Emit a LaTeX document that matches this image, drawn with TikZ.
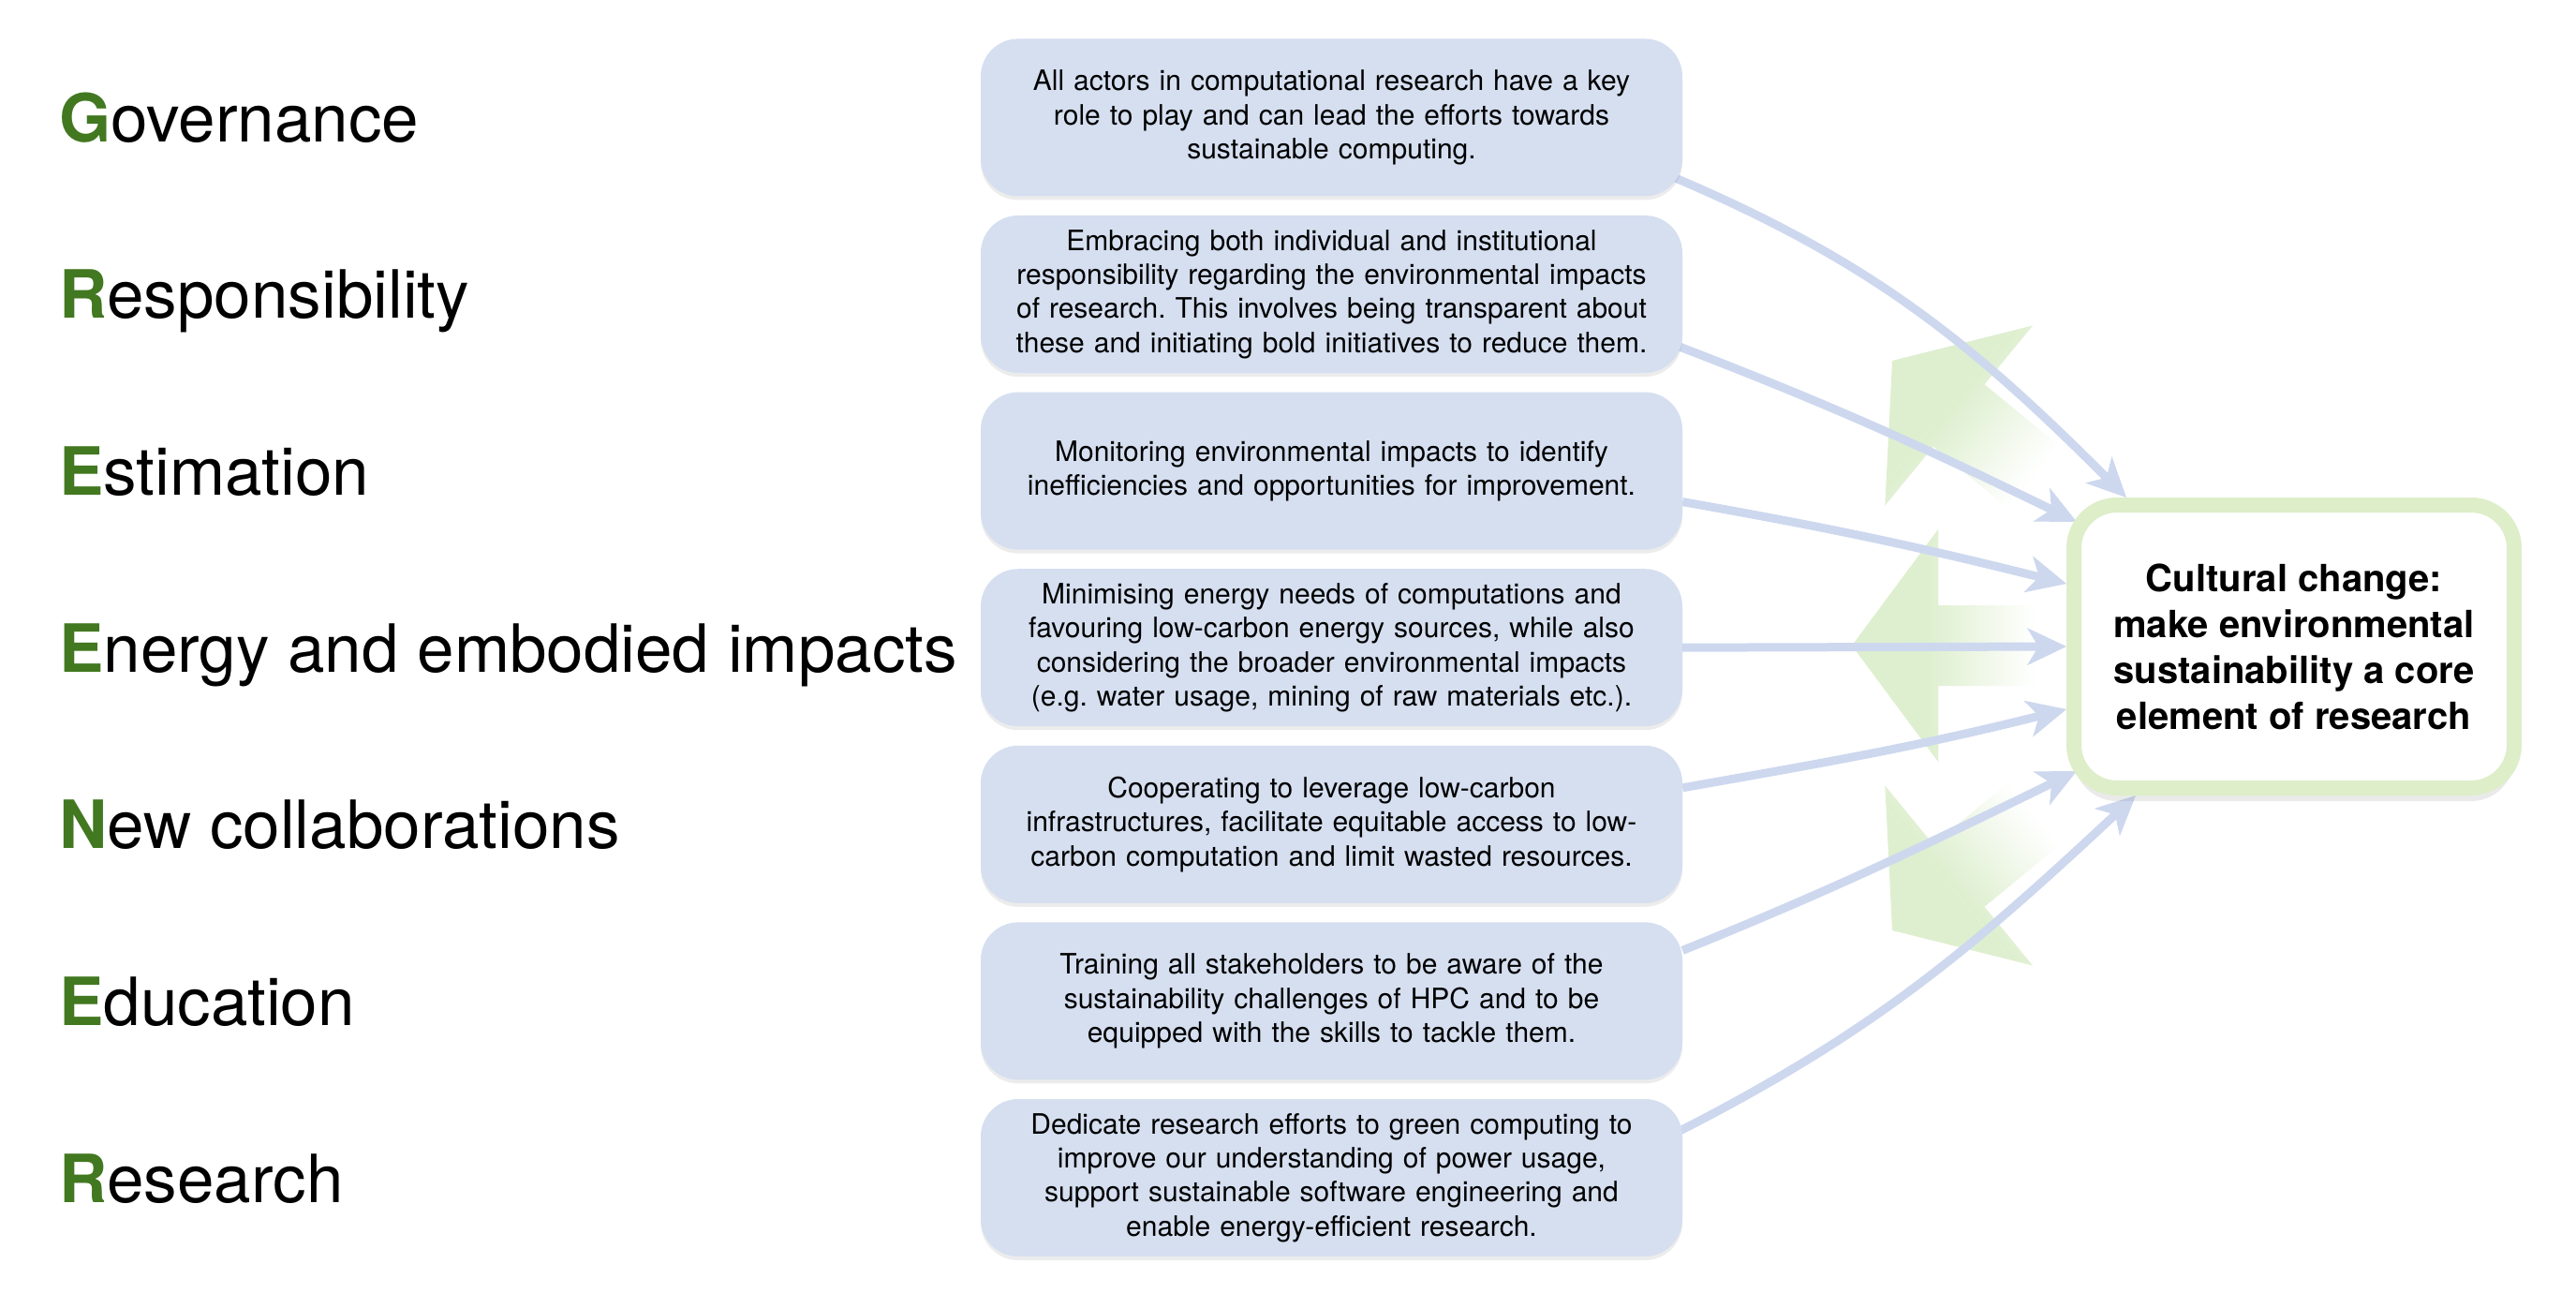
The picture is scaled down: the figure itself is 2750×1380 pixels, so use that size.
\documentclass[tikz,border=0pt]{standalone}
\usepackage{fontspec}
\setmainfont{TeX Gyre Heros}
\usetikzlibrary{arrows.meta,shadows,calc}
\definecolor{boxblue}{RGB}{213,223,240}
\definecolor{arrblue}{RGB}{205,216,239}
\definecolor{rimgreen}{RGB}{221,238,201}
\definecolor{fadegreen}{RGB}{222,239,207}
\definecolor{lettergreen}{RGB}{66,120,32}
\pgfdeclarelayer{bg}
\pgfdeclarelayer{mid}
\pgfsetlayers{bg,mid,main}
\frenchspacing
\newcommand\greencap[1]{{\bfseries\color{lettergreen}#1}}
\tikzset{
  acro/.style={anchor=base west, inner sep=0pt, font=\fontsize{71}{84}\selectfont},
  infobox/.style={fill=boxblue, rounded corners=40pt, minimum width=749pt, minimum height=168pt,
    inner sep=0pt, text width=735pt, align=center, font=\fontsize{30}{36.3}\selectfont,
    drop shadow={shadow xshift=0pt, shadow yshift=-4pt, opacity=0.15}},
  goal/.style={draw=rimgreen, line width=16pt, fill=white, rounded corners=46pt,
    minimum width=470pt, minimum height=302pt, inner sep=0pt, align=center,
    font=\fontsize{40}{49}\selectfont\bfseries,
    drop shadow={shadow xshift=0pt, shadow yshift=-14pt, opacity=0.16}},
  conn/.style={draw=arrblue, line width=9pt,
    -{Stealth[length=42pt,width=40pt,inset=12pt,line width=1pt]}}
}
\newcommand\fadearrow[2]{%
  \begin{scope}[shift={#1}, rotate=#2]
    \clip (0,0) -- (92,124) -- (92,43) -- (210,43) -- (210,-43) -- (92,-43) -- (92,-124) -- cycle;
    \fill[fadegreen] (-5,-130) rectangle (78,130);
    \foreach \i in {0,...,24} {
      \pgfmathtruncatemacro\pc{100-4*\i}
      \fill[fadegreen!\pc!white] ({78+4.6*\i},-130) rectangle ({83.5+4.6*\i},130);
    }
  \end{scope}}
\begin{document}
\begin{tikzpicture}[x=1pt,y=1pt]
\useasboundingbox (0,0) rectangle (2750,-1380);
\begin{pgfonlayer}{bg}
  \fill[white] (0,0) rectangle (2750,-1380);
  \fadearrow{(2020,-385)}{-39.4}
  \fadearrow{(1977,-689)}{0}
  \fadearrow{(2020,-993)}{39.4}
\end{pgfonlayer}

% left labels
\node[acro] (l1) at (63,-151.4) {\greencap{G}overnance};
\node[acro] (l2) at (63,-340.0) {\greencap{R}esponsibility};
\node[acro] (l3) at (63,-528.6) {\greencap{E}stimation};
\node[acro] (l4) at (63,-717.2) {\greencap{E}nergy and embodied impacts};
\node[acro] (l5) at (63,-905.8) {\greencap{N}ew collaborations};
\node[acro] (l6) at (63,-1094.4) {\greencap{E}ducation};
\node[acro] (l7) at (63,-1283.0) {\greencap{R}esearch};

% description boxes
\node[infobox] (b1) at (1421.5,-125.4) {All actors in computational research have a key\\role to play and can lead the efforts towards\\sustainable computing.};
\node[infobox] (b2) at (1421.5,-314.0) {Embracing both individual and institutional\\responsibility regarding the environmental impacts\\of research. This involves being transparent about\\these and initiating bold initiatives to reduce them.};
\node[infobox] (b3) at (1421.5,-502.6) {Monitoring environmental impacts to identify\\inefficiencies and opportunities for improvement.};
\node[infobox] (b4) at (1421.5,-691.2) {Minimising energy needs of computations and\\favouring low-carbon energy sources, while also\\considering the broader environmental impacts\\(e.g. water usage, mining of raw materials etc.).};
\node[infobox] (b5) at (1421.5,-879.8) {Cooperating to leverage low-carbon\\infrastructures, facilitate equitable access to low-\\carbon computation and limit wasted resources.};
\node[infobox] (b6) at (1421.5,-1068.4) {Training all stakeholders to be aware of the\\sustainability challenges of HPC and to be\\equipped with the skills to tackle them.};
\node[infobox] (b7) at (1421.5,-1257.0) {Dedicate research efforts to green computing to\\improve our understanding of power usage,\\support sustainable software engineering and\\enable energy-efficient research.};

% goal box
\node[goal] (cc) at (2449,-690) {Cultural change:\\make environmental\\sustainability a core\\element of research};

% connector end points
\coordinate (s1) at ($(b1.east)+(-9,-64)$);
\coordinate (s2) at ($(b2.east)+(-6,-55)$);
\coordinate (s3) at ($(b3.east)+(0,-33)$);
\coordinate (s5) at ($(b5.east)+(0,39)$);
\coordinate (s6) at ($(b6.east)+(0,54)$);
\coordinate (s7) at ($(b7.east)+(-3,50)$);
\coordinate (e1) at ($(cc.north west)+(64,0)$);
\coordinate (e2) at ($(cc.north west)+(11,-26)$);
\coordinate (e3) at ($(cc.west)+(0,67)$);
\coordinate (e5) at ($(cc.west)+(0,-67)$);
\coordinate (e6) at ($(cc.south west)+(11,26)$);
\coordinate (e7) at ($(cc.south west)+(74,0)$);

\begin{pgfonlayer}{mid}
  \draw[conn] (s1) to[out=-23,in=135] (e1);
  \draw[conn] (s2) to[out=-21,in=154] (e2);
  \draw[conn] (s3) to[out=-10,in=166] (e3);
  \draw[conn] (b4.east) -- (cc.west);
  \draw[conn] (s5) to[out=10,in=-166] (e5);
  \draw[conn] (s6) to[out=22,in=-154] (e6);
  \draw[conn] (s7) to[out=27,in=-137] (e7);
\end{pgfonlayer}
\end{tikzpicture}
\end{document}
